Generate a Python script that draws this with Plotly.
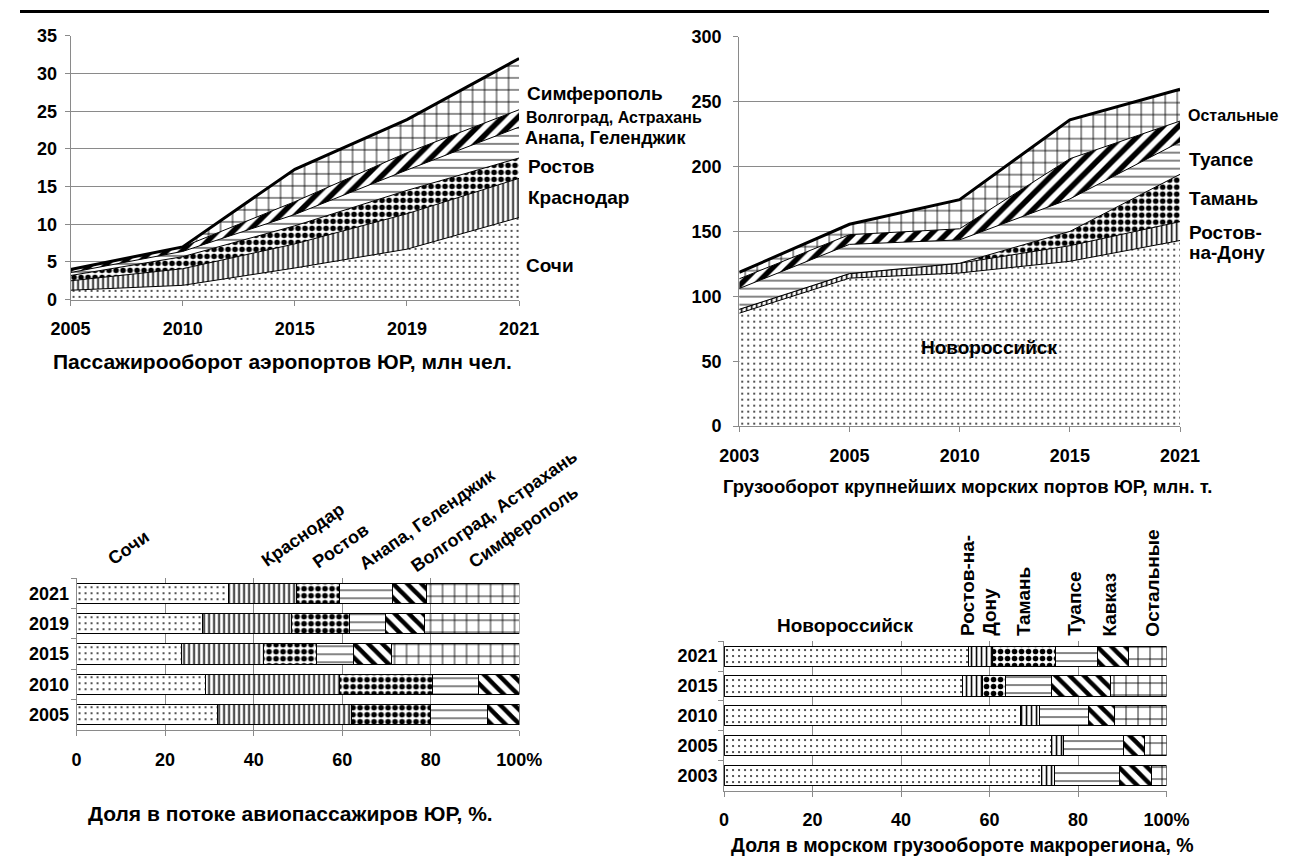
import plotly.graph_objects as go

W, H = 1292, 865

# ---------------- DATA ----------------
# Passenger traffic of airports, mln people (stacked area)
air_years = ["2005", "2010", "2015", "2019", "2021"]
air_sochi = [1.25, 1.9, 4.2, 6.7, 10.9]
air_krasnodar = [1.25, 2.2, 3.2, 4.7, 5.2]
air_rostov = [0.7, 1.6, 2.4, 3.1, 2.7]
air_anapa = [0.4, 0.7, 1.5, 2.7, 4.1]
air_volgograd = [0.4, 0.6, 1.7, 2.3, 2.3]
air_simferopol = [0.0, 0.0, 4.3, 4.4, 6.8]
air_names = ["Сочи", "Краснодар", "Ростов", "Анапа, Геленджик",
             "Волгоград, Астрахань", "Симферополь"]

# Cargo turnover of largest sea ports, mln t (stacked area)
port_years = ["2003", "2005", "2010", "2015", "2021"]
port_novo = [87, 114, 118, 127, 143]
port_rostov = [3, 3.5, 7.5, 12, 14.5]
port_taman = [0, 0, 0, 11, 36.5]
port_tuapse = [16, 22.5, 18, 25, 25]
port_kavkaz = [7.5, 7.5, 8.5, 31, 16]
port_other = [5, 8, 22.5, 30, 24.5]
port_names = ["Новороссийск", "Ростов-на-Дону", "Тамань", "Туапсе", "Кавказ", "Остальные"]

# Share in air passenger flow, % (stacked bars)
sh_air_years = ["2005", "2010", "2015", "2019", "2021"]
sh_air_sochi = [31.8, 29.2, 23.8, 28.4, 34.3]
sh_air_krasnodar = [30.2, 30.3, 18.4, 20.1, 15.4]
sh_air_rostov = [17.9, 20.9, 12.0, 13.1, 9.8]
sh_air_anapa = [12.9, 10.4, 8.3, 8.2, 11.8]
sh_air_volgograd = [7.2, 9.2, 8.6, 8.7, 7.7]
sh_air_simferopol = [0.0, 0.0, 28.9, 21.5, 21.0]

# Share in sea cargo turnover, % (stacked bars)
sh_port_years = ["2003", "2005", "2010", "2015", "2021"]
sh_port_novo = [71.8, 73.9, 67.1, 53.8, 55.2]
sh_port_rostov = [2.8, 2.8, 4.2, 4.5, 5.5]
sh_port_taman = [0.0, 0.0, 0.0, 5.2, 14.3]
sh_port_tuapse = [14.7, 13.5, 11.0, 10.5, 9.4]
sh_port_kavkaz = [7.2, 4.8, 6.0, 13.3, 7.0]
sh_port_other = [3.5, 5.0, 11.7, 12.7, 8.6]

share_ticks = [0, 20, 40, 60, 80, 100]
share_ticktext = ["0", "20", "40", "60", "80", "100%"]

# ---------------- STYLE ----------------
FONT = "Liberation Sans, Arial, sans-serif"
GRID = "#8a8a8a"


def px(x):
    return x / W


def py(y):
    return 1 - y / H


PAT = {
    "dots": dict(shape=".", size=6, solidity=0.07),
    "vert": dict(shape="|", size=5, solidity=0.32),
    "check": dict(shape=".", size=7, solidity=0.5),
    "dash": dict(shape="-", size=8, solidity=0.12),
    "diag_up": dict(shape="/", size=11, solidity=0.5),
    "diag_dn": dict(shape="\\", size=10, solidity=0.45),
    "grid": dict(shape="+", size=12, solidity=0.14),
}


def pattern(key):
    d = dict(PAT[key])
    d.update(fgcolor="black", bgcolor="white", fillmode="replace")
    return d


fig = go.Figure()

# ---- area chart 1 ----
air_series = [air_sochi, air_krasnodar, air_rostov, air_anapa, air_volgograd, air_simferopol]
air_pats = ["dots", "vert", "check", "dash", "diag_up", "grid"]
for i, (vals, name, pk) in enumerate(zip(air_series, air_names, air_pats)):
    fig.add_trace(go.Scatter(
        x=air_years, y=vals, name=name, stackgroup="air", mode="lines",
        line=dict(color="black", width=3 if i == len(air_series) - 1 else 1),
        fillcolor="white", fillpattern=pattern(pk),
        xaxis="x", yaxis="y", showlegend=False, hoverinfo="skip"))

# ---- area chart 2 ----
port_series = [port_novo, port_rostov, port_taman, port_tuapse, port_kavkaz, port_other]
port_pats = ["dots", "vert", "check", "dash", "diag_up", "grid"]
for i, (vals, name, pk) in enumerate(zip(port_series, port_names, port_pats)):
    fig.add_trace(go.Scatter(
        x=port_years, y=vals, name=name, stackgroup="port", mode="lines",
        line=dict(color="black", width=3 if i == len(port_series) - 1 else 1),
        fillcolor="white", fillpattern=pattern(pk),
        xaxis="x2", yaxis="y2", showlegend=False, hoverinfo="skip"))

# ---- bar chart 1 ----
sh_air = [sh_air_sochi, sh_air_krasnodar, sh_air_rostov, sh_air_anapa, sh_air_volgograd, sh_air_simferopol]
sh_air_pats = ["dots", "vert", "check", "dash", "diag_dn", "grid"]
for vals, name, pk in zip(sh_air, air_names, sh_air_pats):
    fig.add_trace(go.Bar(
        x=vals, y=sh_air_years, orientation="h", name=name,
        marker=dict(color="white", line=dict(color="black", width=1), pattern=pattern(pk)),
        xaxis="x3", yaxis="y3", showlegend=False, hoverinfo="skip"))

# ---- bar chart 2 ----
sh_port = [sh_port_novo, sh_port_rostov, sh_port_taman, sh_port_tuapse, sh_port_kavkaz, sh_port_other]
sh_port_pats = ["dots", "vert", "check", "dash", "diag_dn", "grid"]
for vals, name, pk in zip(sh_port, port_names, sh_port_pats):
    fig.add_trace(go.Bar(
        x=vals, y=sh_port_years, orientation="h", name=name,
        marker=dict(color="white", line=dict(color="black", width=1), pattern=pattern(pk)),
        xaxis="x4", yaxis="y4", showlegend=False, hoverinfo="skip"))

tickfont = dict(family=FONT, size=18, color="black", weight="bold")


def cat_x(domain, anchor, standoff):
    return dict(domain=domain, anchor=anchor, type="category", range=[0, 4],
                showgrid=False, showline=True, linecolor=GRID, linewidth=1,
                ticks="outside", ticklen=5, tickcolor=GRID, tickfont=tickfont,
                ticklabelstandoff=standoff, zeroline=False, fixedrange=True)


def val_y(domain, anchor, rng, dtick, standoff):
    return dict(domain=domain, anchor=anchor, range=rng, dtick=dtick,
                showgrid=True, gridcolor=GRID, gridwidth=1,
                showline=True, linecolor=GRID, linewidth=1,
                ticks="outside", ticklen=5, tickcolor=GRID, tickfont=tickfont,
                ticklabelstandoff=standoff, zeroline=False, fixedrange=True)


def share_x(domain, anchor, standoff):
    return dict(domain=domain, anchor=anchor, range=[0, 100],
                tickvals=share_ticks, ticktext=share_ticktext,
                showgrid=True, gridcolor=GRID, gridwidth=1,
                showline=True, linecolor=GRID, linewidth=1,
                ticks="outside", ticklen=5, tickcolor=GRID, tickfont=tickfont,
                ticklabelstandoff=standoff, zeroline=False, fixedrange=True)


def share_y(domain, anchor, standoff):
    return dict(domain=domain, anchor=anchor, type="category",
                showgrid=False, showline=True, linecolor=GRID, linewidth=1,
                ticks="outside", ticklen=5, tickcolor=GRID, tickson="boundaries",
                tickfont=tickfont, ticklabelstandoff=standoff, zeroline=False,
                fixedrange=True)


layout = dict(
    width=W, height=H, margin=dict(l=0, r=0, t=0, b=0),
    paper_bgcolor="white", plot_bgcolor="white",
    barmode="stack", bargap=0.33,
    font=dict(family=FONT, color="black"),
    xaxis=cat_x([px(52.3), px(516.3)], "y", 8),
    yaxis=val_y([py(296.5), py(26.5)], "x", [0, 35], 5, 4),
    xaxis2=cat_x([px(744), px(1200)], "y2", 8),
    yaxis2=val_y([py(426), py(27.3)], "x2", [0, 300], 50, 8),
    xaxis3=share_x([px(58.5), px(516.5)], "y3", 9),
    yaxis3=share_y([py(736.7), py(581.7)], "x3", 3),
    xaxis4=share_x([px(728.3), px(1186)], "y4", 8),
    yaxis4=share_y([py(799.3), py(646)], "x4", 2),
)
fig.update_layout(**layout)

ann = []


def label(text, x, y, size, xanchor="left", yanchor="middle", angle=0):
    ann.append(dict(text=text, x=px(x), y=py(y), xref="paper", yref="paper",
                    xanchor=xanchor, yanchor=yanchor, showarrow=False,
                    textangle=angle,
                    font=dict(family=FONT, size=size, color="black", weight="bold")))


# series labels, chart 1
label("Симферополь", 522, 85, 19)
label("Волгоград, Астрахань", 521, 110, 16)
label("Анапа, Геленджик", 520, 131, 18)
label("Ростов", 523, 160, 19)
label("Краснодар", 523, 192, 19)
label("Сочи", 521, 262, 19)
label("Пассажирооборот аэропортов ЮР, млн чел.", 32, 360, 21)

# series labels, chart 2
label("Остальные", 1206, 108, 16)
label("Туапсе", 1207, 153, 19)
label("Тамань", 1207, 193, 19)
label("Ростов-", 1207, 228, 19)
label("на-Дону", 1207, 248, 19)
label("Новороссийск", 1002, 345, 19, xanchor="center")
label("Грузооборот крупнейших морских портов ЮР, млн. т.", 725, 488, 18.5)

# rotated labels, chart 3
for t, x, y in [("Сочи", 84, 575), ("Краснодар", 243, 577), ("Ростов", 296, 578),
                ("Анапа, Геленджик", 345, 580), ("Волгоград, Астрахань", 398, 582),
                ("Симферополь", 457, 578)]:
    label(t, x, y, 18, yanchor="bottom", angle=-35)
label("Доля в потоке авиопассажиров ЮР, %.", 68, 823, 21)

# labels, chart 4
label("Новороссийск", 853, 630, 19, xanchor="center")
for t, x in [("Ростов-на-", 980), ("Дону", 1002), ("Тамань", 1038),
             ("Туапсе", 1090), ("Кавказ", 1127), ("Остальные", 1172)]:
    label(t, x, 643, 19, xanchor="center", yanchor="bottom", angle=-90)
label("Доля в морском грузообороте макрорегиона, %", 733, 855, 19.5)

fig.update_layout(annotations=ann, shapes=[dict(
    type="rect", xref="paper", yref="paper", x0=0, x1=1, y0=py(3), y1=1,
    fillcolor="black", line=dict(width=0))])

fig.write_html("out.html", config={"displayModeBar": False},
               post_script="document.body.style.margin='0px';"
                           "document.body.style.overflow='hidden';")
